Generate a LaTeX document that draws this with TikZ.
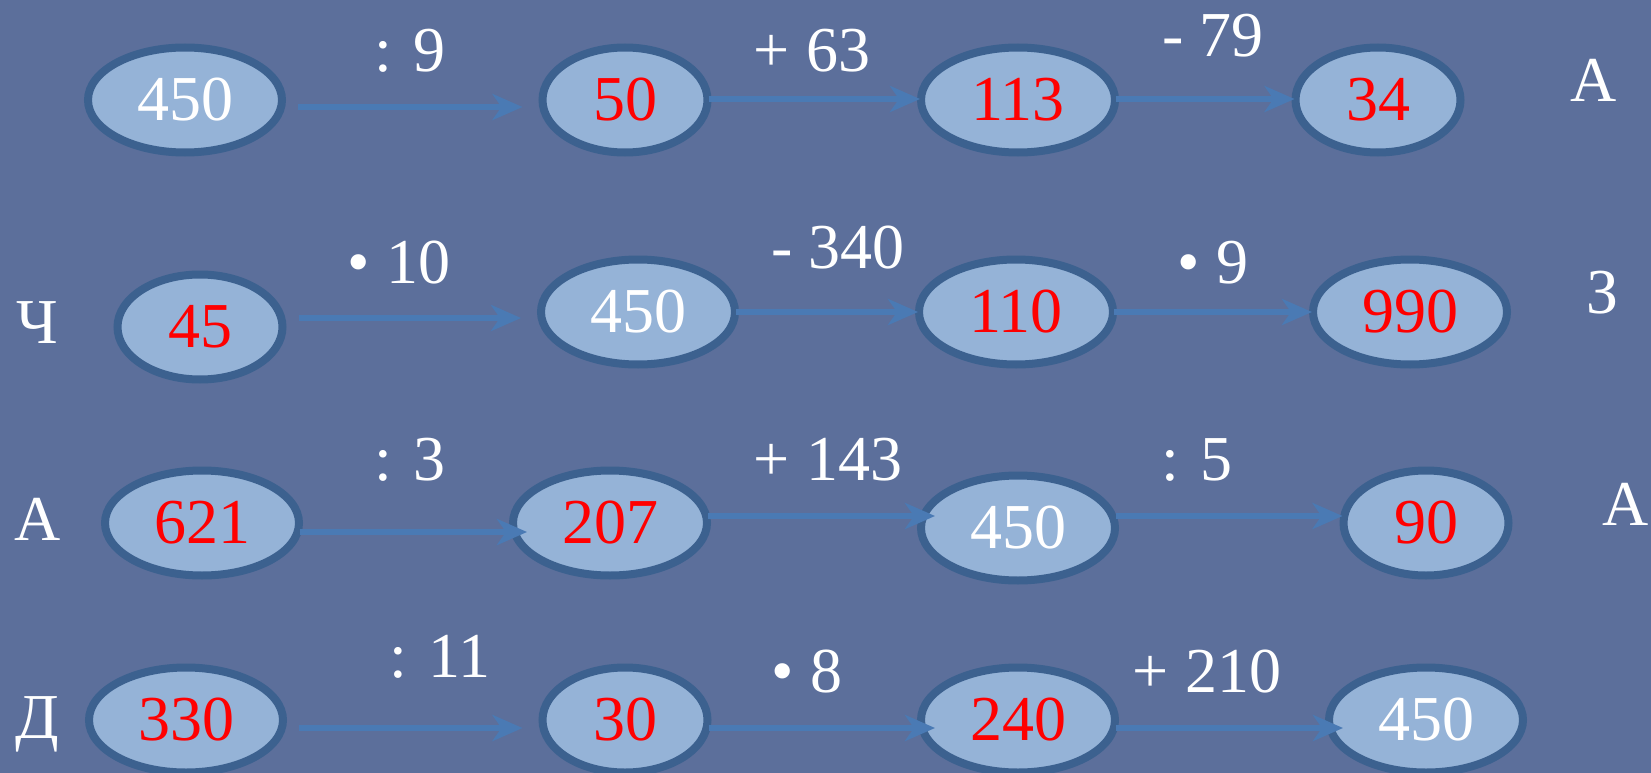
\documentclass[tikz,border=0pt]{standalone}
\usepackage{fontspec}
\setmainfont{Liberation Serif}
\usetikzlibrary{arrows.meta,shapes.geometric}
\definecolor{bgblue}{RGB}{92,111,155}
\definecolor{ovalfill}{RGB}{149,179,215}
\definecolor{ovalline}{RGB}{60,97,143}
\definecolor{arrowblue}{RGB}{74,122,180}

\begin{document}
\begin{tikzpicture}[x=1pt, y=-1pt,
    oval/.style={ellipse, draw=ovalline, line width=8pt, fill=ovalfill, minimum width=194pt, minimum height=105pt, inner sep=0pt, text=red, font=\fontsize{64}{70}\selectfont},
    narrow/.style={minimum width=165pt},
    res/.style={text=white},
    arr/.style={draw=arrowblue, line width=6pt, -{Stealth[length=30pt,width=26pt,inset=9pt]}, shorten <=-3pt, shorten >=-3pt},
    gap/.style={shorten <=12pt, shorten >=16pt},
    into/.style={shorten >=-18pt},
    lbl/.style={anchor=base, inner sep=0pt, text=white, font=\fontsize{64}{70}\selectfont}
]
\fill[bgblue] (0,0) rectangle (1651,773);
\useasboundingbox (0,0) rectangle (1651,773);

% row 1
\node[oval, res] (e11) at (185,100) {450};
\node[oval, narrow] (e12) at (625,100) {50};
\node[oval] (e13) at (1018,100) {113};
\node[oval, narrow] (e14) at (1378,100) {34};
\node[lbl] (l11) at (410,72) {: 9};
\node[lbl] (l12) at (812,72) {+ 63};
\node[lbl] (l13) at (1213,57) {- 79};
\node[lbl] (r1) at (1594,102) {А};
\draw[arr, gap] (e11.east |- 0,107) -- (e12.west |- 0,107);
\draw[arr] (e12.east |- 0,99) -- (e13.west |- 0,99);
\draw[arr] (e13.east |- 0,99) -- (e14.west |- 0,99);

% row 2
\node[lbl] (c2) at (37,343) {Ч};
\node[oval, narrow] (e21) at (200,327) {45};
\node[oval, res] (e22) at (638,312) {450};
\node[oval] (e23) at (1016,312) {110};
\node[oval] (e24) at (1410,312) {990};
\node[lbl] (l21) at (399,283) {• 10};
\node[lbl] (l22) at (838,268) {- 340};
\node[lbl] (l23) at (1213,283) {• 9};
\node[lbl] (r2) at (1603,313) {З};
\draw[arr, gap] (e21.east |- 0,318) -- (e22.west |- 0,318);
\draw[arr] (e22.east |- 0,312) -- (e23.west |- 0,312);
\draw[arr] (e23.east |- 0,312) -- (e24.west |- 0,312);

% row 3
\node[lbl] (c3) at (38,540) {А};
\node[oval] (e31) at (202,523) {621};
\node[oval] (e32) at (610,523) {207};
\node[oval, res] (e33) at (1018,528) {450};
\node[oval, narrow] (e34) at (1426,523) {90};
\node[lbl] (l31) at (410,480) {: 3};
\node[lbl] (l32) at (828,480) {+ 143};
\node[lbl] (l33) at (1197,480) {: 5};
\node[lbl] (r3) at (1626,525) {А};
\draw[arr, into] (e31.east |- 0,532) -- (e32.west |- 0,532);
\draw[arr, into] (e32.east |- 0,516) -- (e33.west |- 0,516);
\draw[arr] (e33.east |- 0,516) -- (e34.west |- 0,516);

% row 4
\node[lbl] (c4) at (37,738) {Д};
\node[oval] (e41) at (186,720) {330};
\node[oval, narrow] (e42) at (625,720) {30};
\node[oval] (e43) at (1018,720) {240};
\node[oval, res] (e44) at (1426,720) {450};
\node[lbl] (l41) at (440,677) {: 11};
\node[lbl] (l42) at (807,692) {• 8};
\node[lbl] (l43) at (1207,692) {+ 210};
\draw[arr, gap] (e41.east |- 0,728) -- (e42.west |- 0,728);
\draw[arr, into] (e42.east |- 0,728) -- (e43.west |- 0,728);
\draw[arr, into] (e43.east |- 0,728) -- (e44.west |- 0,728);
\end{tikzpicture}
\end{document}
